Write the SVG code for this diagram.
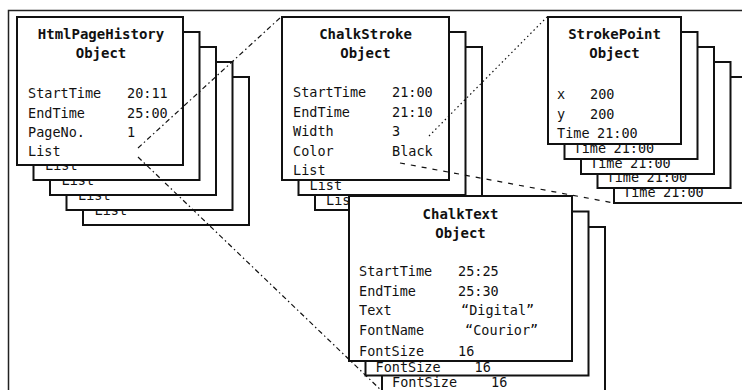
<svg xmlns="http://www.w3.org/2000/svg" width="742" height="390" viewBox="0 0 742 390">
<style>
.bg{fill:#fff}
.frame{fill:none;stroke:#222;stroke-width:1.5}
.box{fill:#fff;stroke:#111;stroke-width:2}
.t{font-family:"DejaVu Sans Mono","Liberation Mono",monospace;font-size:13.5px;fill:#111}
.h{font-family:"DejaVu Sans Mono","Liberation Mono",monospace;font-size:14px;font-weight:bold;text-anchor:middle;fill:#111}
.c{fill:none;stroke:#111;stroke-width:1.2}
.dd{stroke-dasharray:5 3 1.5 3}
.dt{stroke-dasharray:1.5 3}
.ds{stroke-dasharray:5 6}
</style>
<rect class="bg" x="0" y="0" width="742" height="390"/>
<rect class="frame" x="8.5" y="10.5" width="750" height="400"/>

<g id="htmlPageHistory">
  <rect class="box" x="83" y="77" width="166" height="148"/>
  <text class="t" x="94.5" y="214.5">List</text>
  <rect class="box" x="66.5" y="62" width="166" height="148"/>
  <text class="t" x="78" y="199.5">List</text>
  <rect class="box" x="50" y="47" width="166" height="148"/>
  <text class="t" x="61.5" y="184.5">List</text>
  <rect class="box" x="33.5" y="32" width="166" height="148"/>
  <text class="t" x="45" y="169.5">List</text>
  <rect class="box" x="17" y="17" width="166" height="148"/>
  <text class="h" x="101" y="38.5">HtmlPageHistory</text>
  <text class="h" x="101" y="57.5">Object</text>
  <text class="t" x="28" y="98">StartTime</text><text class="t" x="127" y="98">20:11</text>
  <text class="t" x="28" y="117.5">EndTime</text><text class="t" x="127" y="117.5">25:00</text>
  <text class="t" x="28" y="137">PageNo.</text><text class="t" x="127" y="137">1</text>
  <text class="t" x="28" y="156">List</text>
</g>

<g id="chalkStroke">
  <rect class="box" x="315" y="47" width="167" height="163"/>
  <text class="t" x="326" y="205">List</text>
  <rect class="box" x="298.5" y="32" width="167" height="163"/>
  <text class="t" x="309.5" y="190">List</text>
  <rect class="box" x="282" y="17" width="167" height="163"/>
  <text class="h" x="365.5" y="38.5">ChalkStroke</text>
  <text class="h" x="365.5" y="57.5">Object</text>
  <text class="t" x="293" y="97">StartTime</text><text class="t" x="392" y="97">21:00</text>
  <text class="t" x="293" y="117">EndTime</text><text class="t" x="392" y="117">21:10</text>
  <text class="t" x="293" y="136">Width</text><text class="t" x="392" y="136">3</text>
  <text class="t" x="293" y="156">Color</text><text class="t" x="392" y="156">Black</text>
  <text class="t" x="293" y="175">List</text>
</g>

<g id="strokePoint">
  <rect class="box" x="614" y="77" width="133" height="126"/>
  <text class="t" x="623" y="197">Time</text><text class="t" x="663" y="197">21:00</text>
  <rect class="box" x="597.5" y="62" width="133" height="126"/>
  <text class="t" x="606.5" y="182">Time</text><text class="t" x="646.5" y="182">21:00</text>
  <rect class="box" x="581" y="47" width="133" height="127"/>
  <text class="t" x="590" y="167.5">Time</text><text class="t" x="630" y="167.5">21:00</text>
  <rect class="box" x="564.5" y="32" width="133" height="127"/>
  <text class="t" x="573.5" y="152.5">Time</text><text class="t" x="613.5" y="152.5">21:00</text>
  <rect class="box" x="548" y="17" width="133" height="127"/>
  <text class="h" x="614.5" y="39">StrokePoint</text>
  <text class="h" x="614.5" y="58">Object</text>
  <text class="t" x="557" y="99">x</text><text class="t" x="590" y="99">200</text>
  <text class="t" x="557" y="118.5">y</text><text class="t" x="590" y="118.5">200</text>
  <text class="t" x="557" y="138">Time</text><text class="t" x="597" y="138">21:00</text>
</g>

<g id="chalkText">
  <rect class="box" x="382" y="227" width="223" height="170"/>
  <text class="t" x="392" y="387">FontSize</text><text class="t" x="491" y="387">16</text>
  <rect class="box" x="365.5" y="211.5" width="223" height="164"/>
  <text class="t" x="375.5" y="371.5">FontSize</text><text class="t" x="474.5" y="371.5">16</text>
  <rect class="box" x="349" y="196" width="223" height="165"/>
  <text class="h" x="460.5" y="218.5">ChalkText</text>
  <text class="h" x="460.5" y="238">Object</text>
  <text class="t" x="359" y="276">StartTime</text><text class="t" x="458" y="276">25:25</text>
  <text class="t" x="359" y="296">EndTime</text><text class="t" x="458" y="296">25:30</text>
  <text class="t" x="359" y="315">Text</text><text class="t" x="461" y="315">“Digital”</text>
  <text class="t" x="359" y="335">FontName</text><text class="t" x="465" y="335">“Courior”</text>
  <text class="t" x="359" y="356">FontSize</text><text class="t" x="458" y="356">16</text>
</g>

<g id="connectors">
  <path class="c dd" d="M138 148 L281 17"/>
  <path class="c dd" d="M138 157 L384 393"/>
  <path class="c dt" d="M429 136 L547 17"/>
  <path class="c ds" d="M400 163 L614 203"/>
</g>
</svg>
